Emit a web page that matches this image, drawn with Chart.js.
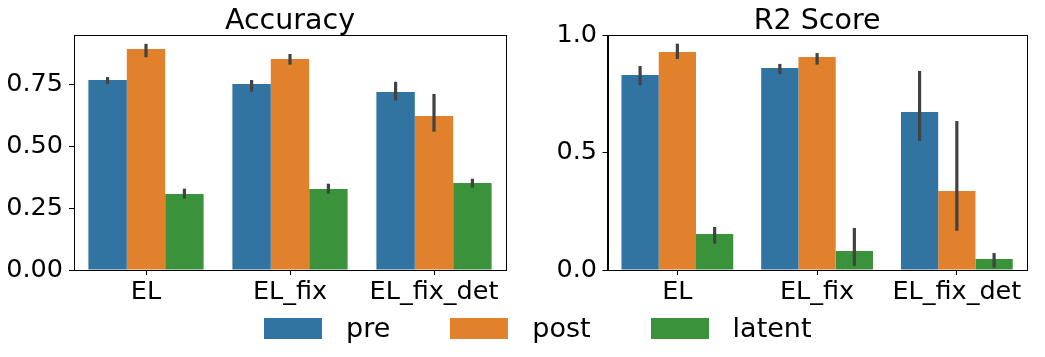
<!DOCTYPE html>
<html>
<head>
<meta charset="utf-8">
<script src="https://cdn.jsdelivr.net/npm/chart.js@4"></script>
<style>
  body{margin:0;background:#fff;font-family:"DejaVu Sans",sans-serif;}
  #wrap{position:relative;width:1045px;height:357px;overflow:hidden;}
  .panel{position:absolute;top:0;}
  #legend{position:absolute;left:264px;top:314px;display:flex;align-items:center;}
  .item{display:flex;align-items:flex-end;margin-right:60px;}
  .box{width:58px;height:21px;margin-right:24px;margin-bottom:2px;}
  .lbl{font-size:27px;line-height:27px;color:#000;}
</style>
</head>
<body>
<div id="wrap">
  <div class="panel" style="left:0px"><canvas id="acc" width="520" height="357"></canvas></div>
  <div class="panel" style="left:520px"><canvas id="r2" width="525" height="357"></canvas></div>
  <div id="legend"></div>
</div>
<script>
// categories on the x axis
var categories=["EL","EL_fix","EL_fix_det"];
// series names + colours (seaborn deep-ish palette)
var seriesNames=["pre","post","latent"];
var seriesColors=["#3274a1","#e1812c","#3a923a"];

// Accuracy means
var accPre=[0.766,0.750,0.718];
var accPost=[0.891,0.851,0.621];
var accLatent=[0.306,0.327,0.351];
// Accuracy confidence intervals [low,high]
var accPreCI=[[0.750,0.778],[0.719,0.766],[0.683,0.759]];
var accPostCI=[[0.858,0.912],[0.828,0.871],[0.558,0.710]];
var accLatentCI=[[0.288,0.328],[0.308,0.348],[0.332,0.368]];

// R2 means
var r2Pre=[0.830,0.860,0.672];
var r2Post=[0.928,0.906,0.336];
var r2Latent=[0.153,0.081,0.047];
// R2 confidence intervals [low,high]
var r2PreCI=[[0.787,0.868],[0.834,0.877],[0.549,0.847]];
var r2PostCI=[[0.898,0.963],[0.874,0.923],[0.167,0.634]];
var r2LatentCI=[[0.112,0.183],[0.018,0.179],[0.010,0.072]];

// y tick settings
var accTicks={max:0.9476,step:0.25,digits:2};
var r2Ticks={max:1.0,step:0.5,digits:1};

var FONT="'DejaVu Sans', sans-serif";

//plugin that draws the seaborn style error bars using the y scale
var errorBars={
    id:"errorBars",
    afterDatasetsDraw:function(chart){
        var ctx=chart.ctx;
        var yScale=chart.scales.y;
        ctx.save();
        ctx.strokeStyle="#424242";
        ctx.lineWidth=3.2;
        ctx.lineCap="butt";
        chart.data.datasets.forEach(function(ds,i){
            var meta=chart.getDatasetMeta(i);
            meta.data.forEach(function(bar,j){
                var ci=ds.ci[j];
                ctx.beginPath();
                ctx.moveTo(bar.x,yScale.getPixelForValue(ci[0]));
                ctx.lineTo(bar.x,yScale.getPixelForValue(ci[1]));
                ctx.stroke();
            });
        });
        ctx.restore();
    }
};

//plugin for the full box around the plot area + the title centred on the axes
var frameBox={
    id:"frameBox",
    afterDraw:function(chart,args,opts){
        var a=chart.chartArea;
        var ctx=chart.ctx;
        ctx.save();
        ctx.strokeStyle="#000";
        ctx.lineWidth=1;
        ctx.strokeRect(Math.round(a.left)+0.5,Math.round(a.top)+0.5,Math.round(a.right-a.left),Math.round(a.bottom-a.top));
        ctx.fillStyle="#000";
        ctx.font="28.5px "+FONT;
        ctx.textAlign="center";
        ctx.textBaseline="alphabetic";
        ctx.fillText(opts.text,(a.left+a.right)/2,29);
        ctx.restore();
    }
};

function makeDatasets(vals,cis){
    var out=[];
    for(var i=0;i<vals.length;i++){
        out.push({
            label:seriesNames[i],
            data:vals[i],
            ci:cis[i],
            backgroundColor:seriesColors[i],
            borderWidth:0,
            categoryPercentage:0.8,
            barPercentage:1.0
        });
    }
    return out;
}

function createChart(id,title,vals,cis,tk,yWidth,padRight,labelPad){
    return new Chart(document.getElementById(id),{
        type:"bar",
        data:{labels:categories,datasets:makeDatasets(vals,cis)},
        options:{
            responsive:false,
            animation:false,
            devicePixelRatio:1,
            layout:{padding:{left:0,right:padRight,top:35,bottom:0}},
            plugins:{
                legend:{display:false},
                tooltip:{enabled:false},
                title:{display:false},
                frameBox:{text:title}
            },
            scales:{
                x:{
                    grid:{display:true,drawOnChartArea:false,offset:false,tickLength:5,color:"#000",tickWidth:1},
                    border:{display:true,color:"#000",width:1},
                    ticks:{color:"#000",font:{family:FONT,size:25.5},padding:2,maxRotation:0,autoSkip:false},
                    afterFit:function(s){s.height=87;}
                },
                y:{
                    min:0,max:tk.max,
                    grid:{display:true,drawOnChartArea:false,tickLength:5,color:"#000",tickWidth:1},
                    border:{display:true,color:"#000",width:1},
                    ticks:{stepSize:tk.step,includeBounds:false,color:"#000",padding:labelPad,
                        font:{family:FONT,size:25.5},
                        callback:function(v){return v.toFixed(tk.digits);}},
                    afterFit:function(s){s.width=yWidth;}
                }
            }
        },
        plugins:[errorBars,frameBox]
    });
}

createChart("acc","Accuracy",[accPre,accPost,accLatent],[accPreCI,accPostCI,accLatentCI],accTicks,74,14,6);
createChart("r2","R2 Score",[r2Pre,r2Post,r2Latent],[r2PreCI,r2PostCI,r2LatentCI],r2Ticks,87.5,18.3,5.5);

//shared legend under both panels
var legend=document.getElementById("legend");
for(var i=0;i<seriesNames.length;i++){
    var item=document.createElement("div");
    item.className="item";
    var box=document.createElement("div");
    box.className="box";
    box.style.background=seriesColors[i];
    var lbl=document.createElement("span");
    lbl.className="lbl";
    lbl.innerHTML=seriesNames[i];
    item.appendChild(box);
    item.appendChild(lbl);
    legend.appendChild(item);
}
</script>
</body>
</html>
